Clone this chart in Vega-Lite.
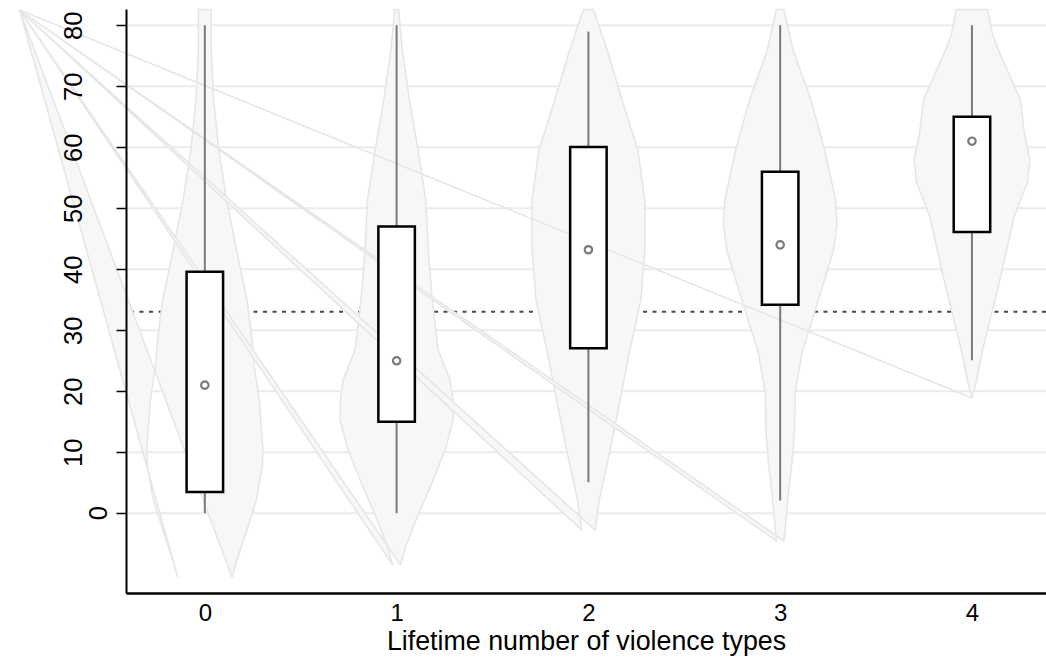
{
  "$schema": "https://vega.github.io/schema/vega-lite/v6.json",
  "width": 920,
  "height": 584,
  "autosize": {"type": "none"},
  "padding": {"left": 126, "top": 9, "right": 0, "bottom": 65},
  "background": "white",
  "config": {"view": {"stroke": null}, "font": "Liberation Sans"},
  "datasets": {
    "grid": [{"g": 0}, {"g": 10}, {"g": 20}, {"g": 30}, {"g": 40}, {"g": 50}, {"g": 60}, {"g": 70}, {"g": 80}],
    "ref": [{"r": 33.05}],
    "zerolabel": [{"t": "0", "yv": 0, "xv": -0.385}],
    "violins": [
      {"v": 0, "k": 0, "x": -0.966, "y": 82.5},
      {"v": 0, "k": 1, "x": -0.1418, "y": -10.44},
      {"v": 0, "k": 2, "x": -0.1753, "y": -6.83},
      {"v": 0, "k": 3, "x": -0.214, "y": -3.23},
      {"v": 0, "k": 4, "x": -0.2682, "y": 2.18},
      {"v": 0, "k": 5, "x": -0.2991, "y": 7.59},
      {"v": 0, "k": 6, "x": -0.3032, "y": 10.38},
      {"v": 0, "k": 7, "x": -0.2965, "y": 13.16},
      {"v": 0, "k": 8, "x": -0.2837, "y": 18.57},
      {"v": 0, "k": 9, "x": -0.2579, "y": 23.98},
      {"v": 0, "k": 10, "x": -0.2424, "y": 29.57},
      {"v": 0, "k": 11, "x": -0.2192, "y": 34.97},
      {"v": 0, "k": 12, "x": -0.165, "y": 43.16},
      {"v": 0, "k": 13, "x": -0.1135, "y": 51.36},
      {"v": 0, "k": 14, "x": -0.0722, "y": 59.56},
      {"v": 0, "k": 15, "x": -0.0464, "y": 67.75},
      {"v": 0, "k": 16, "x": -0.0335, "y": 75.95},
      {"v": 0, "k": 17, "x": -0.0335, "y": 82.6},
      {"v": 0, "k": 18, "x": 0.0335, "y": 82.6},
      {"v": 0, "k": 19, "x": 0.0335, "y": 75.95},
      {"v": 0, "k": 20, "x": 0.0464, "y": 67.75},
      {"v": 0, "k": 21, "x": 0.0722, "y": 59.56},
      {"v": 0, "k": 22, "x": 0.1135, "y": 51.36},
      {"v": 0, "k": 23, "x": 0.165, "y": 43.16},
      {"v": 0, "k": 24, "x": 0.2192, "y": 34.97},
      {"v": 0, "k": 25, "x": 0.2424, "y": 29.57},
      {"v": 0, "k": 26, "x": 0.2579, "y": 23.98},
      {"v": 0, "k": 27, "x": 0.2837, "y": 18.57},
      {"v": 0, "k": 28, "x": 0.2965, "y": 13.16},
      {"v": 0, "k": 29, "x": 0.3032, "y": 10.38},
      {"v": 0, "k": 30, "x": 0.2991, "y": 7.59},
      {"v": 0, "k": 31, "x": 0.2682, "y": 2.18},
      {"v": 0, "k": 32, "x": 0.214, "y": -3.23},
      {"v": 0, "k": 33, "x": 0.1753, "y": -6.83},
      {"v": 0, "k": 34, "x": 0.1418, "y": -10.44},
      {"v": 0, "k": 35, "x": -0.966, "y": 82.5},
      {"v": 1, "k": 0, "x": -0.966, "y": 82.5},
      {"v": 1, "k": 1, "x": 0.9794, "y": -8.48},
      {"v": 1, "k": 2, "x": 0.9536, "y": -5.52},
      {"v": 1, "k": 3, "x": 0.884, "y": 0.05},
      {"v": 1, "k": 4, "x": 0.8092, "y": 5.46},
      {"v": 1, "k": 5, "x": 0.7421, "y": 10.87},
      {"v": 1, "k": 6, "x": 0.706, "y": 15.3},
      {"v": 1, "k": 7, "x": 0.706, "y": 18.57},
      {"v": 1, "k": 8, "x": 0.7215, "y": 21.85},
      {"v": 1, "k": 9, "x": 0.7834, "y": 26.8},
      {"v": 1, "k": 10, "x": 0.8143, "y": 34.97},
      {"v": 1, "k": 11, "x": 0.835, "y": 43.16},
      {"v": 1, "k": 12, "x": 0.8479, "y": 51.36},
      {"v": 1, "k": 13, "x": 0.8881, "y": 59.56},
      {"v": 1, "k": 14, "x": 0.933, "y": 67.75},
      {"v": 1, "k": 15, "x": 0.9706, "y": 75.95},
      {"v": 1, "k": 16, "x": 0.9897, "y": 82.6},
      {"v": 1, "k": 17, "x": 1.0103, "y": 82.6},
      {"v": 1, "k": 18, "x": 1.0294, "y": 75.95},
      {"v": 1, "k": 19, "x": 1.067, "y": 67.75},
      {"v": 1, "k": 20, "x": 1.1119, "y": 59.56},
      {"v": 1, "k": 21, "x": 1.1521, "y": 51.36},
      {"v": 1, "k": 22, "x": 1.165, "y": 43.16},
      {"v": 1, "k": 23, "x": 1.1857, "y": 34.97},
      {"v": 1, "k": 24, "x": 1.2166, "y": 26.8},
      {"v": 1, "k": 25, "x": 1.2785, "y": 21.85},
      {"v": 1, "k": 26, "x": 1.294, "y": 18.57},
      {"v": 1, "k": 27, "x": 1.294, "y": 15.3},
      {"v": 1, "k": 28, "x": 1.2579, "y": 10.87},
      {"v": 1, "k": 29, "x": 1.1908, "y": 5.46},
      {"v": 1, "k": 30, "x": 1.116, "y": 0.05},
      {"v": 1, "k": 31, "x": 1.0464, "y": -5.52},
      {"v": 1, "k": 32, "x": 1.0206, "y": -8.48},
      {"v": 1, "k": 33, "x": -0.966, "y": 82.5},
      {"v": 2, "k": 0, "x": -0.966, "y": 82.5},
      {"v": 2, "k": 1, "x": 1.9654, "y": -2.74},
      {"v": 2, "k": 2, "x": 1.9433, "y": 2.18},
      {"v": 2, "k": 3, "x": 1.8865, "y": 10.38},
      {"v": 2, "k": 4, "x": 1.835, "y": 18.57},
      {"v": 2, "k": 5, "x": 1.7834, "y": 26.8},
      {"v": 2, "k": 6, "x": 1.7267, "y": 34.97},
      {"v": 2, "k": 7, "x": 1.706, "y": 43.16},
      {"v": 2, "k": 8, "x": 1.706, "y": 51.36},
      {"v": 2, "k": 9, "x": 1.7421, "y": 59.56},
      {"v": 2, "k": 10, "x": 1.8247, "y": 67.75},
      {"v": 2, "k": 11, "x": 1.902, "y": 75.95},
      {"v": 2, "k": 12, "x": 1.9742, "y": 82.6},
      {"v": 2, "k": 13, "x": 2.0258, "y": 82.6},
      {"v": 2, "k": 14, "x": 2.098, "y": 75.95},
      {"v": 2, "k": 15, "x": 2.1753, "y": 67.75},
      {"v": 2, "k": 16, "x": 2.2579, "y": 59.56},
      {"v": 2, "k": 17, "x": 2.294, "y": 51.36},
      {"v": 2, "k": 18, "x": 2.294, "y": 43.16},
      {"v": 2, "k": 19, "x": 2.2733, "y": 34.97},
      {"v": 2, "k": 20, "x": 2.2166, "y": 26.8},
      {"v": 2, "k": 21, "x": 2.165, "y": 18.57},
      {"v": 2, "k": 22, "x": 2.1135, "y": 10.38},
      {"v": 2, "k": 23, "x": 2.0567, "y": 2.18},
      {"v": 2, "k": 24, "x": 2.0346, "y": -2.74},
      {"v": 2, "k": 25, "x": -0.966, "y": 82.5},
      {"v": 3, "k": 0, "x": -0.966, "y": 82.5},
      {"v": 3, "k": 1, "x": 2.9804, "y": -4.54},
      {"v": 3, "k": 2, "x": 2.9603, "y": 2.18},
      {"v": 3, "k": 3, "x": 2.9397, "y": 8.08},
      {"v": 3, "k": 4, "x": 2.9252, "y": 13.8},
      {"v": 3, "k": 5, "x": 2.9226, "y": 19.72},
      {"v": 3, "k": 6, "x": 2.8865, "y": 26.3},
      {"v": 3, "k": 7, "x": 2.835, "y": 31.5},
      {"v": 3, "k": 8, "x": 2.7782, "y": 37.26},
      {"v": 3, "k": 9, "x": 2.7215, "y": 43.16},
      {"v": 3, "k": 10, "x": 2.7035, "y": 47.26},
      {"v": 3, "k": 11, "x": 2.7112, "y": 51.36},
      {"v": 3, "k": 12, "x": 2.7679, "y": 59.56},
      {"v": 3, "k": 13, "x": 2.8401, "y": 67.75},
      {"v": 3, "k": 14, "x": 2.933, "y": 75.95},
      {"v": 3, "k": 15, "x": 2.9804, "y": 82.6},
      {"v": 3, "k": 16, "x": 3.0196, "y": 82.6},
      {"v": 3, "k": 17, "x": 3.067, "y": 75.95},
      {"v": 3, "k": 18, "x": 3.1599, "y": 67.75},
      {"v": 3, "k": 19, "x": 3.2321, "y": 59.56},
      {"v": 3, "k": 20, "x": 3.2888, "y": 51.36},
      {"v": 3, "k": 21, "x": 3.2965, "y": 47.26},
      {"v": 3, "k": 22, "x": 3.2785, "y": 43.16},
      {"v": 3, "k": 23, "x": 3.2218, "y": 37.26},
      {"v": 3, "k": 24, "x": 3.165, "y": 31.5},
      {"v": 3, "k": 25, "x": 3.1135, "y": 26.3},
      {"v": 3, "k": 26, "x": 3.0774, "y": 19.72},
      {"v": 3, "k": 27, "x": 3.0748, "y": 13.8},
      {"v": 3, "k": 28, "x": 3.0603, "y": 8.08},
      {"v": 3, "k": 29, "x": 3.0397, "y": 2.18},
      {"v": 3, "k": 30, "x": 3.0196, "y": -4.54},
      {"v": 3, "k": 31, "x": -0.966, "y": 82.5},
      {"v": 4, "k": 0, "x": -0.966, "y": 82.5},
      {"v": 4, "k": 1, "x": 4.0, "y": 18.9},
      {"v": 4, "k": 2, "x": 3.9794, "y": 21.36},
      {"v": 4, "k": 3, "x": 3.9443, "y": 26.8},
      {"v": 4, "k": 4, "x": 3.902, "y": 32.2},
      {"v": 4, "k": 5, "x": 3.8582, "y": 37.75},
      {"v": 4, "k": 6, "x": 3.8195, "y": 43.16},
      {"v": 4, "k": 7, "x": 3.7808, "y": 48.57},
      {"v": 4, "k": 8, "x": 3.7473, "y": 51.36},
      {"v": 4, "k": 9, "x": 3.7112, "y": 54.15},
      {"v": 4, "k": 10, "x": 3.6983, "y": 57.9},
      {"v": 4, "k": 11, "x": 3.7267, "y": 62.3},
      {"v": 4, "k": 12, "x": 3.7473, "y": 67.75},
      {"v": 4, "k": 13, "x": 3.785, "y": 70.5},
      {"v": 4, "k": 14, "x": 3.8623, "y": 75.95},
      {"v": 4, "k": 15, "x": 3.8943, "y": 78.7},
      {"v": 4, "k": 16, "x": 3.9175, "y": 82.6},
      {"v": 4, "k": 17, "x": 4.0825, "y": 82.6},
      {"v": 4, "k": 18, "x": 4.1057, "y": 78.7},
      {"v": 4, "k": 19, "x": 4.1377, "y": 75.95},
      {"v": 4, "k": 20, "x": 4.215, "y": 70.5},
      {"v": 4, "k": 21, "x": 4.2527, "y": 67.75},
      {"v": 4, "k": 22, "x": 4.2733, "y": 62.3},
      {"v": 4, "k": 23, "x": 4.3017, "y": 57.9},
      {"v": 4, "k": 24, "x": 4.2888, "y": 54.15},
      {"v": 4, "k": 25, "x": 4.2527, "y": 51.36},
      {"v": 4, "k": 26, "x": 4.2192, "y": 48.57},
      {"v": 4, "k": 27, "x": 4.1805, "y": 43.16},
      {"v": 4, "k": 28, "x": 4.1418, "y": 37.75},
      {"v": 4, "k": 29, "x": 4.098, "y": 32.2},
      {"v": 4, "k": 30, "x": 4.0557, "y": 26.8},
      {"v": 4, "k": 31, "x": 4.0206, "y": 21.36},
      {"v": 4, "k": 32, "x": 4.0, "y": 18.9},
      {"v": 4, "k": 33, "x": -0.966, "y": 82.5}
    ],
    "boxes": [
      {"g": 0, "q1": 3.5, "q3": 39.6, "med": 21.0, "lo": 0, "hi": 80},
      {"g": 1, "q1": 15.0, "q3": 47.0, "med": 25.0, "lo": 0, "hi": 80},
      {"g": 2, "q1": 27.05, "q3": 60.05, "med": 43.2, "lo": 5.1, "hi": 79.0},
      {"g": 3, "q1": 34.2, "q3": 56.0, "med": 44.0, "lo": 2.1, "hi": 80},
      {"g": 4, "q1": 46.1, "q3": 65.0, "med": 61.0, "lo": 25.1, "hi": 80}
    ]
  },
  "layer": [
    {
      "data": {"name": "grid"},
      "mark": {"type": "rule", "color": "#ebebeb", "strokeWidth": 2},
      "encoding": {
        "y": {"field": "g", "type": "quantitative", "scale": {"domain": [-13.07, 82.67], "nice": false, "zero": false},
          "axis": {"values": [0, 10, 20, 30, 40, 50, 60, 70, 80], "title": null, "grid": false, "zindex": 1, "domainColor": "#000000", "domainWidth": 2, "tickColor": "#000000", "tickWidth": 1.5, "tickSize": 10, "labelAngle": -90, "labelAlign": "center", "labelPadding": 29.5, "labelFontSize": 25.5, "labelColor": "#000000", "labelFont": "Liberation Sans", "labelExpr": "datum.value === 0 ? '' : datum.label"}}
      }
    },
    {
      "data": {"name": "ref"},
      "mark": {"type": "rule", "color": "#4a4a4a", "strokeWidth": 2, "strokeDash": [4, 5.5]},
      "encoding": {
        "y": {"field": "r", "type": "quantitative", "scale": {"domain": [-13.07, 82.67], "nice": false, "zero": false},
          "axis": {"values": [0, 10, 20, 30, 40, 50, 60, 70, 80], "title": null, "grid": false, "zindex": 1, "domainColor": "#000000", "domainWidth": 2, "tickColor": "#000000", "tickWidth": 1.5, "tickSize": 10, "labelAngle": -90, "labelAlign": "center", "labelPadding": 29.5, "labelFontSize": 25.5, "labelColor": "#000000", "labelFont": "Liberation Sans", "labelExpr": "datum.value === 0 ? '' : datum.label"}}
      }
    },
    {
      "data": {"name": "violins"},
      "mark": {"type": "line", "fill": "#f7f7f7", "stroke": "#e6e6e6", "strokeWidth": 1.6, "strokeJoin": "round"},
      "encoding": {
        "x": {"field": "x", "type": "quantitative", "scale": {"domain": [-0.385, 4.36], "nice": false, "zero": false},
          "axis": {"values": [0, 1, 2, 3, 4], "format": "d", "title": "Lifetime number of violence types", "grid": false, "ticks": false, "zindex": 1, "domainColor": "#000000", "domainWidth": 2.5, "labelFontSize": 24, "labelPadding": 8, "labelColor": "#000000", "labelFont": "Liberation Sans", "labelFlush": false, "titleFontSize": 26.8, "titleFontWeight": "normal", "titleColor": "#000000", "titleFont": "Liberation Sans", "titlePadding": 3}},
        "y": {"field": "y", "type": "quantitative", "scale": {"domain": [-13.07, 82.67], "nice": false, "zero": false},
          "axis": {"values": [0, 10, 20, 30, 40, 50, 60, 70, 80], "title": null, "grid": false, "zindex": 1, "domainColor": "#000000", "domainWidth": 2, "tickColor": "#000000", "tickWidth": 1.5, "tickSize": 10, "labelAngle": -90, "labelAlign": "center", "labelPadding": 29.5, "labelFontSize": 25.5, "labelColor": "#000000", "labelFont": "Liberation Sans", "labelExpr": "datum.value === 0 ? '' : datum.label"}},
        "detail": {"field": "v", "type": "nominal"},
        "order": {"field": "k", "type": "quantitative"}
      }
    },
    {
      "data": {"name": "boxes"},
      "mark": {"type": "rule", "color": "#7a7a7a", "strokeWidth": 2},
      "encoding": {
        "x": {"field": "g", "type": "quantitative", "scale": {"domain": [-0.385, 4.36], "nice": false, "zero": false},
          "axis": {"values": [0, 1, 2, 3, 4], "format": "d", "title": "Lifetime number of violence types", "grid": false, "ticks": false, "zindex": 1, "domainColor": "#000000", "domainWidth": 2.5, "labelFontSize": 24, "labelPadding": 8, "labelColor": "#000000", "labelFont": "Liberation Sans", "labelFlush": false, "titleFontSize": 26.8, "titleFontWeight": "normal", "titleColor": "#000000", "titleFont": "Liberation Sans", "titlePadding": 3}},
        "y": {"field": "lo", "type": "quantitative", "scale": {"domain": [-13.07, 82.67], "nice": false, "zero": false},
          "axis": {"values": [0, 10, 20, 30, 40, 50, 60, 70, 80], "title": null, "grid": false, "zindex": 1, "domainColor": "#000000", "domainWidth": 2, "tickColor": "#000000", "tickWidth": 1.5, "tickSize": 10, "labelAngle": -90, "labelAlign": "center", "labelPadding": 29.5, "labelFontSize": 25.5, "labelColor": "#000000", "labelFont": "Liberation Sans", "labelExpr": "datum.value === 0 ? '' : datum.label"}},
        "y2": {"field": "hi"}
      }
    },
    {
      "data": {"name": "boxes"},
      "mark": {"type": "bar", "orient": "vertical", "size": 36.5, "fill": "#ffffff", "stroke": "#000000", "strokeWidth": 2.5},
      "encoding": {
        "x": {"field": "g", "type": "quantitative", "scale": {"domain": [-0.385, 4.36], "nice": false, "zero": false},
          "axis": {"values": [0, 1, 2, 3, 4], "format": "d", "title": "Lifetime number of violence types", "grid": false, "ticks": false, "zindex": 1, "domainColor": "#000000", "domainWidth": 2.5, "labelFontSize": 24, "labelPadding": 8, "labelColor": "#000000", "labelFont": "Liberation Sans", "labelFlush": false, "titleFontSize": 26.8, "titleFontWeight": "normal", "titleColor": "#000000", "titleFont": "Liberation Sans", "titlePadding": 3}},
        "y": {"field": "q1", "type": "quantitative", "scale": {"domain": [-13.07, 82.67], "nice": false, "zero": false},
          "axis": {"values": [0, 10, 20, 30, 40, 50, 60, 70, 80], "title": null, "grid": false, "zindex": 1, "domainColor": "#000000", "domainWidth": 2, "tickColor": "#000000", "tickWidth": 1.5, "tickSize": 10, "labelAngle": -90, "labelAlign": "center", "labelPadding": 29.5, "labelFontSize": 25.5, "labelColor": "#000000", "labelFont": "Liberation Sans", "labelExpr": "datum.value === 0 ? '' : datum.label"}},
        "y2": {"field": "q3"}
      }
    },
    {
      "data": {"name": "boxes"},
      "mark": {"type": "point", "shape": "circle", "filled": false, "stroke": "#7a7a7a", "strokeWidth": 2.2, "size": 55, "opacity": 1},
      "encoding": {
        "x": {"field": "g", "type": "quantitative", "scale": {"domain": [-0.385, 4.36], "nice": false, "zero": false},
          "axis": {"values": [0, 1, 2, 3, 4], "format": "d", "title": "Lifetime number of violence types", "grid": false, "ticks": false, "zindex": 1, "domainColor": "#000000", "domainWidth": 2.5, "labelFontSize": 24, "labelPadding": 8, "labelColor": "#000000", "labelFont": "Liberation Sans", "labelFlush": false, "titleFontSize": 26.8, "titleFontWeight": "normal", "titleColor": "#000000", "titleFont": "Liberation Sans", "titlePadding": 3}},
        "y": {"field": "med", "type": "quantitative", "scale": {"domain": [-13.07, 82.67], "nice": false, "zero": false},
          "axis": {"values": [0, 10, 20, 30, 40, 50, 60, 70, 80], "title": null, "grid": false, "zindex": 1, "domainColor": "#000000", "domainWidth": 2, "tickColor": "#000000", "tickWidth": 1.5, "tickSize": 10, "labelAngle": -90, "labelAlign": "center", "labelPadding": 29.5, "labelFontSize": 25.5, "labelColor": "#000000", "labelFont": "Liberation Sans", "labelExpr": "datum.value === 0 ? '' : datum.label"}}
      }
    },
    {
      "data": {"name": "zerolabel"},
      "mark": {"type": "text", "angle": 270, "align": "center", "baseline": "middle", "fontSize": 25.5, "font": "Liberation Sans", "color": "#000000", "xOffset": -32},
      "encoding": {
        "x": {"field": "xv", "type": "quantitative", "scale": {"domain": [-0.385, 4.36], "nice": false, "zero": false},
          "axis": {"values": [0, 1, 2, 3, 4], "format": "d", "title": "Lifetime number of violence types", "grid": false, "ticks": false, "zindex": 1, "domainColor": "#000000", "domainWidth": 2.5, "labelFontSize": 24, "labelPadding": 8, "labelColor": "#000000", "labelFont": "Liberation Sans", "labelFlush": false, "titleFontSize": 26.8, "titleFontWeight": "normal", "titleColor": "#000000", "titleFont": "Liberation Sans", "titlePadding": 3}},
        "y": {"field": "yv", "type": "quantitative", "scale": {"domain": [-13.07, 82.67], "nice": false, "zero": false},
          "axis": {"values": [0, 10, 20, 30, 40, 50, 60, 70, 80], "title": null, "grid": false, "zindex": 1, "domainColor": "#000000", "domainWidth": 2, "tickColor": "#000000", "tickWidth": 1.5, "tickSize": 10, "labelAngle": -90, "labelAlign": "center", "labelPadding": 29.5, "labelFontSize": 25.5, "labelColor": "#000000", "labelFont": "Liberation Sans", "labelExpr": "datum.value === 0 ? '' : datum.label"}},
        "text": {"field": "t", "type": "nominal"}
      }
    }
  ]
}
